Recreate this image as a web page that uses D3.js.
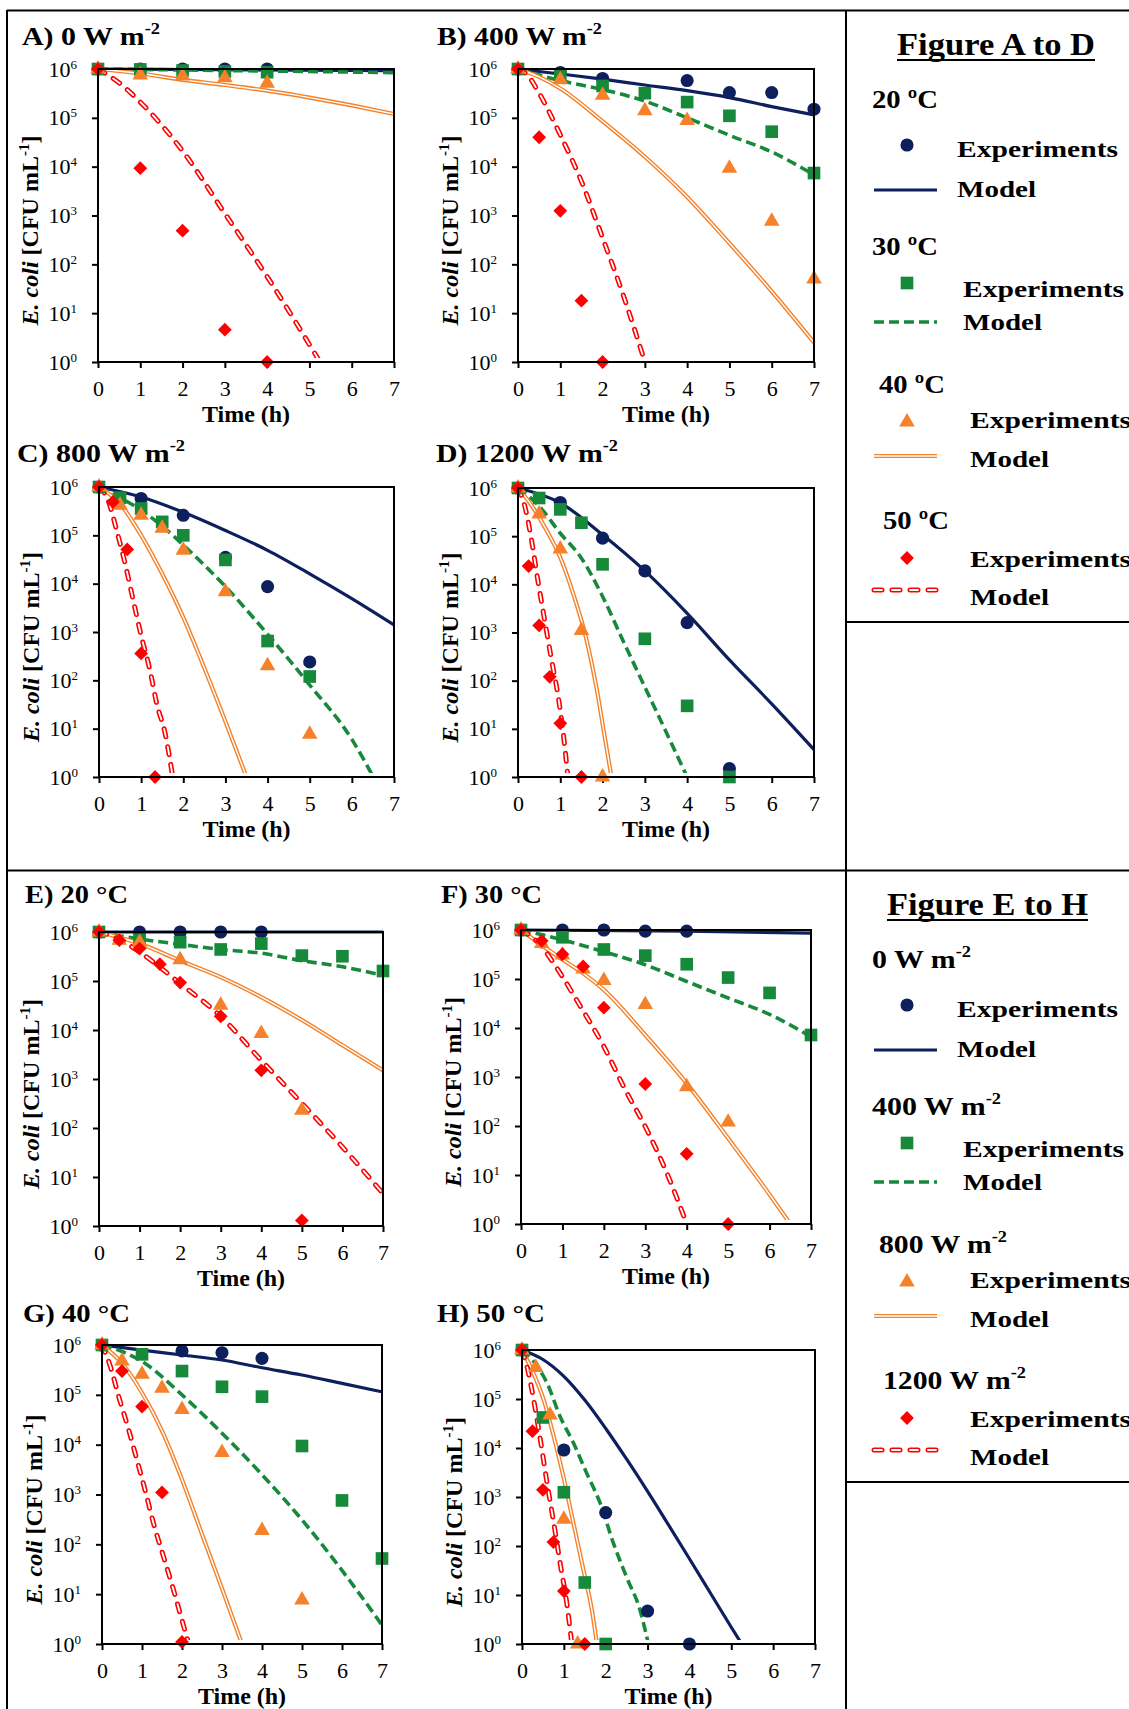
<!DOCTYPE html>
<html>
<head>
<meta charset="utf-8">
<script src="https://cdn.jsdelivr.net/npm/d3@7"></script>
<style>
  body { margin: 0; background: #fff; }
  svg { display: block; font-family: "Liberation Serif", "Times New Roman", serif; }
</style>
</head>
<body>
<div id="chart"></div>
<script>
// ---- data (time in h, E. coli in CFU/mL) ----
const xTicks = [0, 1, 2, 3, 4, 5, 6, 7];
const yTicks = [1e0, 1e1, 1e2, 1e3, 1e4, 1e5, 1e6];
const yExponents = ['0', '1', '2', '3', '4', '5', '6'];

const panelLabels = ['A) 0 W m', 'B) 400 W m', 'C) 800 W m', 'D) 1200 W m',
  'E) 20 °C', 'F) 30 °C', 'G) 40 °C', 'H) 50 °C'];
const panelLabelSups = ['-2', '-2', '-2', '-2', '', '', '', ''];

// series order in every panel: [20 ºC / 0 W, 30 ºC / 400 W, 40 ºC / 800 W, 50 ºC / 1200 W]
const expA = [
  [[0, 1e6], [1, 1e6], [2, 1e6], [3, 1e6], [4, 1e6]],
  [[0, 1e6], [1, 9.8e5], [2, 9.3e5], [3, 8.9e5], [4, 8.6e5]],
  [[0, 1e6], [1, 7.5e5], [2, 7.2e5], [3, 6.6e5], [4, 5.1e5]],
  [[0, 1e6], [1, 9.3e3], [2, 4.9e2], [3, 4.6], [4, 1]]
];
const modelA = [
  [[0, 1e6], [7, 9.2e5]],
  [[0, 1e6], [1, 9.8e5], [3, 9.3e5], [5, 8.9e5], [7, 8.4e5]],
  [[0, 1e6], [1, 8.1e5], [2, 6e5], [3, 4.7e5], [4, 3.6e5], [5, 2.6e5], [6, 1.8e5], [7, 1.2e5]],
  [[0, 1e6], [0.5, 5.2e5], [1, 2.1e5], [2, 2.1e4], [3, 1.1e3], [4, 56], [5.25, 1]]
];

const expB = [
  [[0, 1e6], [1, 8.5e5], [2, 6.4e5], [4, 5.8e5], [5, 3.3e5], [6, 3.3e5], [7, 1.5e5]],
  [[0, 1e6], [1, 7.2e5], [2, 4.5e5], [3, 3.2e5], [4, 2.1e5], [5, 1.1e5], [6, 5.2e4], [7, 7.4e3]],
  [[0, 1e6], [1, 6e5], [2, 2.9e5], [3, 1.4e5], [4, 8.8e4], [5, 9.3e3], [6, 7.6e2], [7, 50]],
  [[0, 1e6], [0.5, 4e4], [1, 1.25e3], [1.5, 18], [2, 1]]
];
const modelB = [
  [[0, 1e6], [1, 7.9e5], [2, 6.2e5], [3, 4.7e5], [4, 3.6e5], [5, 2.6e5], [6, 1.7e5], [7, 1.15e5]],
  [[0, 1e6], [1, 5.8e5], [2, 3.8e5], [3, 2.2e5], [4, 1e5], [5, 4.4e4], [6, 2e4], [7, 6.8e3]],
  [[0, 1e6], [0.5, 6.9e5], [1, 4e5], [2, 8.5e4], [3, 1.6e4], [4, 2.4e3], [5, 2.7e2], [6, 28], [7, 2.5]],
  [[0, 1e6], [0.25, 7.1e5], [0.5, 3.2e5], [1, 4.5e4], [1.5, 5e3], [2, 3.5e2], [2.5, 22], [3, 1]]
];

const expC = [
  [[0, 1e6], [1, 5.8e5], [2, 2.6e5], [3, 3.5e4], [4, 8.7e3], [5, 2.4e2]],
  [[0, 1e6], [0.5, 6e5], [1, 3.6e5], [1.5, 1.9e5], [2, 1e5], [3, 3.1e4], [4, 6.5e2], [5, 1.2e2]],
  [[0, 1e6], [0.5, 4.2e5], [1, 2.6e5], [1.5, 1.4e5], [2, 4.9e4], [3, 6.8e3], [4, 2e2], [5, 7.7]],
  [[0, 1e6], [0.33, 4.9e5], [0.67, 5.1e4], [1, 3.6e2], [1.33, 1]]
];
const modelC = [
  [[0, 1e6], [1, 6.2e5], [2, 3e5], [3, 1.26e5], [4, 4.9e4], [5, 1.6e4], [6, 4.9e3], [7, 1.4e3]],
  [[0, 1e6], [0.5, 6e5], [1, 3.3e5], [1.5, 1.55e5], [2, 6.3e4], [3, 8.7e3], [4, 9e2], [5, 80], [6, 6], [6.51, 1]],
  [[0, 1e6], [0.5, 4.5e5], [1, 1e5], [1.5, 1.6e4], [2, 2e3], [2.5, 1.8e2], [3, 14], [3.5, 1]],
  [[0, 1e6], [0.22, 5.2e5], [0.42, 1.26e5], [0.62, 2.6e4], [0.81, 4.6e3], [1.01, 7.8e2], [1.21, 1.6e2], [1.37, 33], [1.57, 7.9], [1.75, 1]]
];

const expD = [
  [[0, 1e6], [1, 5e5], [2, 9.1e4], [3, 1.9e4], [4, 1.6e3], [5, 1.5]],
  [[0, 1e6], [0.5, 6.2e5], [1, 3.6e5], [1.5, 1.9e5], [2, 2.6e4], [3, 7.4e2], [4, 30], [5, 1]],
  [[0, 1e6], [0.5, 2.9e5], [1, 5.4e4], [1.5, 1.1e3], [2, 1]],
  [[0, 1e6], [0.25, 2.4e4], [0.5, 1.4e3], [0.75, 1.2e2], [1, 13], [1.5, 1]]
];
const modelD = [
  [[0, 1e6], [1, 4.9e5], [2, 1.07e5], [3, 1.9e4], [4, 2.5e3], [5, 2.7e2], [6, 33], [7, 3.7]],
  [[0, 1e6], [0.5, 4.2e5], [1, 1.15e5], [1.5, 3.5e4], [2, 5.6e3], [2.5, 6.3e2], [3, 74], [3.5, 8.7], [4, 1]],
  [[0, 1e6], [0.28, 4.9e5], [0.67, 1.35e5], [0.99, 3.8e4], [1.3, 6.6e3], [1.62, 7.1e2], [1.85, 76], [2.05, 6.9], [2.21, 1]],
  [[0, 1e6], [0.16, 4.2e5], [0.32, 8.3e4], [0.47, 1.2e4], [0.63, 1.8e3], [0.79, 2.8e2], [0.95, 47], [1.07, 8.1], [1.18, 1]]
];

const expE = [
  [[0, 1e6], [1, 1e6], [2, 1e6], [3, 1e6], [4, 1e6]],
  [[0, 1e6], [1, 6.9e5], [2, 6.2e5], [3, 4.4e5], [4, 5.8e5], [5, 3.3e5], [6, 3.2e5], [7, 1.6e5]],
  [[0, 1e6], [0.5, 6.8e5], [1, 6.2e5], [2, 2.7e5], [3, 3.2e4], [4, 8.5e3], [5, 2.3e2]],
  [[0, 1e6], [0.5, 6.8e5], [1, 4.6e5], [1.5, 2.2e5], [2, 9.3e4], [3, 1.9e4], [4, 1.5e3], [5, 1.3]]
];
const modelE = [
  [[0, 1e6], [7, 1e6]],
  [[0, 1e6], [1, 7.2e5], [2, 5.6e5], [3, 4.4e5], [4, 3.7e5], [5, 2.6e5], [6, 1.95e5], [7, 1.3e5]],
  [[0, 1e6], [1, 5.8e5], [2, 2.6e5], [3, 1.2e5], [4, 4.7e4], [5, 1.6e4], [6, 4.9e3], [7, 1.5e3]],
  [[0, 1e6], [0.5, 7.1e5], [1, 3.9e5], [2, 8.9e4], [3, 1.9e4], [4, 2.4e3], [5, 3.2e2], [6, 41], [7, 4.6]]
];

const expF = [
  [[0, 1e6], [1, 1e6], [2, 1e6], [3, 9.5e5], [4, 9.5e5]],
  [[0, 1e6], [1, 7.1e5], [2, 4e5], [3, 3e5], [4, 2e5], [5, 1.07e5], [6, 5.2e4], [7, 7.2e3]],
  [[0, 1e6], [0.5, 5.3e5], [1, 3.1e5], [1.5, 1.6e5], [2, 9.3e4], [3, 3e4], [4, 6.3e2], [5, 1.2e2]],
  [[0, 1e6], [0.5, 6e5], [1, 3.2e5], [1.5, 1.8e5], [2, 2.6e4], [3, 7.2e2], [4, 27], [5, 1]]
];
const modelF = [
  [[0, 1e6], [4, 9.5e5], [7, 8.6e5]],
  [[0, 1e6], [1, 6.3e5], [2, 3.6e5], [3, 1.95e5], [4, 8.9e4], [5, 4.1e4], [6, 1.9e4], [7, 6.6e3]],
  [[0, 1e6], [0.5, 4.9e5], [1, 2.5e5], [1.5, 1.3e5], [2, 6e4], [3, 7.2e3], [4, 7.4e2], [5, 56], [6, 4], [6.5, 1]],
  [[0, 1e6], [0.39, 5.8e5], [0.95, 1.3e5], [1.43, 2.8e4], [2, 4.2e3], [2.48, 6.3e2], [3.04, 83], [3.52, 11], [4, 1]]
];

const expG = [
  [[0, 1e6], [2, 7.6e5], [3, 7e5], [4, 5.4e5]],
  [[0, 1e6], [1, 6.5e5], [2, 3e5], [3, 1.45e5], [4, 9.2e4], [5, 9.4e3], [6, 7.6e2], [7, 52]],
  [[0, 1e6], [0.5, 4.8e5], [1, 2.6e5], [1.5, 1.35e5], [2, 5.1e4], [3, 7e3], [4, 1.9e2], [5, 7.6]],
  [[0, 1e6], [0.5, 3e5], [1, 5.8e4], [1.5, 1.1e3], [2, 1.1]]
];
const modelG = [
  [[0, 1e6], [1, 7.9e5], [2, 6.3e5], [3, 5e5], [4, 3.5e5], [5, 2.5e5], [6, 1.7e5], [7, 1.15e5]],
  [[0, 1e6], [0.5, 7.4e5], [1, 4.7e5], [2, 1e5], [3, 1.7e4], [4, 2.5e3], [5, 3.1e2], [6, 30], [7, 2.4]],
  [[0, 1e6], [0.5, 4.3e5], [1, 1.1e5], [1.5, 1.9e4], [2, 2e3], [2.5, 1.6e2], [3, 13], [3.5, 1]],
  [[0, 1e6], [0.21, 3.7e5], [0.42, 9.1e4], [0.67, 1.95e4], [0.875, 4.9e3], [1.08, 1.2e3], [1.29, 2.6e2], [1.54, 56], [1.79, 12], [2, 3], [2.17, 1]]
];

const expH = [
  [[0, 1e6], [1, 9.1e3], [2, 4.8e2], [3, 4.7], [4, 1]],
  [[0, 1e6], [0.5, 4.2e4], [1, 1.25e3], [1.5, 18], [2, 1]],
  [[0, 1e6], [0.33, 4.4e5], [0.67, 4.7e4], [1, 3.5e2], [1.33, 1]],
  [[0, 1e6], [0.25, 2.2e4], [0.5, 1.4e3], [0.75, 1.2e2], [1, 12], [1.5, 1]]
];
const modelH = [
  [[0, 1e6], [0.5, 6.4e5], [1, 2.9e5], [1.5, 9.5e4], [2, 2.5e4], [2.5, 5.9e3], [3, 1.3e3], [3.5, 2.7e2], [4, 55], [4.5, 11], [5, 2.2], [5.25, 1]],
  [[0, 1e6], [0.28, 5.8e5], [0.6, 2.1e5], [0.91, 4.4e4], [1.23, 1.26e4], [1.55, 3e3], [1.87, 7.4e2], [2.19, 1.1e2], [2.5, 23], [2.82, 4.9], [3.02, 1]],
  [[0, 1e6], [0.24, 3.9e5], [0.52, 9.5e4], [0.76, 1.7e4], [0.99, 2.6e3], [1.23, 2.9e2], [1.47, 32], [1.67, 4.9], [1.79, 1]],
  [[0, 1e6], [0.12, 4.6e5], [0.28, 9.5e4], [0.44, 1.45e4], [0.6, 1.9e3], [0.76, 2.9e2], [0.91, 45], [1.07, 6.8], [1.19, 1]]
];

const legendTitles = ['Figure A to D', 'Figure E to H'];
const legendHeadsAD = [['20 ºC', ''], ['30 ºC', ''], ['40 ºC', ''], ['50 ºC', '']];
const legendHeadsEH = [['0 W m', '-2'], ['400 W m', '-2'], ['800 W m', '-2'], ['1200 W m', '-2']];

// ---- styles & layout ----
const fontStack = '"Liberation Serif", "Times New Roman", serif';
const colors = ['#0d1f5c', '#17893a', '#f5822a', '#ff0000'];
const W = 1129, H = 1709;

const panels = [
  { exp: expA, model: modelA, x: 98, y: 69, w: 296, h: 293, tx: 22, ty: 45, tw: 138 },
  { exp: expB, model: modelB, x: 518, y: 69, w: 296, h: 293, tx: 437, ty: 45, tw: 165 },
  { exp: expC, model: modelC, x: 99, y: 487, w: 295, h: 290, tx: 17, ty: 462, tw: 168 },
  { exp: expD, model: modelD, x: 518, y: 488, w: 296, h: 289, tx: 436, ty: 462, tw: 182 },
  { exp: expE, model: modelE, x: 99, y: 932, w: 284, h: 294, tx: 25, ty: 903, tw: 103 },
  { exp: expF, model: modelF, x: 521, y: 930, w: 290, h: 294, tx: 441, ty: 903, tw: 101 },
  { exp: expG, model: modelG, x: 102, y: 1345, w: 280, h: 299, tx: 23, ty: 1322, tw: 107 },
  { exp: expH, model: modelH, x: 522, y: 1350, w: 293, h: 294, tx: 437, ty: 1322, tw: 108 }
];

const svg = d3.select('#chart').append('svg')
  .attr('width', W)
  .attr('height', H)
  .attr('font-family', fontStack);

// outer frames
const frameLines = [
  [7, 10.5, W, 10.5], [7, 10, 7, H], [846, 10, 846, H], [7, 870.5, W, 870.5],
  [846, 622, W, 622], [846, 1482, W, 1482]
];
svg.selectAll('line.frame').data(frameLines).enter().append('line')
  .attr('class', 'frame')
  .attr('x1', d => d[0]).attr('y1', d => d[1])
  .attr('x2', d => d[2]).attr('y2', d => d[3])
  .attr('stroke', '#000').attr('stroke-width', 2);

// marker path for one series
function markerPath(i) {
  if (i === 0) return d3.symbol(d3.symbolCircle, 135)();
  if (i === 1) return d3.symbol(d3.symbolSquare, 160)();
  if (i === 2) return d3.symbol(d3.symbolTriangle, 105)();
  return d3.symbol(d3.symbolSquare, 95)();
}

// draws a model line with the style of series i
function drawModel(g, pathD, i) {
  if (i === 0) {
    g.append('path').attr('d', pathD).attr('fill', 'none')
      .attr('stroke', colors[0]).attr('stroke-width', 3.2);
  } else if (i === 1) {
    g.append('path').attr('d', pathD).attr('fill', 'none')
      .attr('stroke', colors[1]).attr('stroke-width', 3.6)
      .attr('stroke-dasharray', '10,5');
  } else if (i === 2) {
    g.append('path').attr('d', pathD).attr('fill', 'none')
      .attr('stroke', colors[2]).attr('stroke-width', 4.2);
    g.append('path').attr('d', pathD).attr('fill', 'none')
      .attr('stroke', '#fff').attr('stroke-width', 1.4);
  } else {
    g.append('path').attr('d', pathD).attr('fill', 'none')
      .attr('stroke', colors[3]).attr('stroke-width', 5)
      .attr('stroke-linecap', 'round').attr('stroke-dasharray', '8,10');
    g.append('path').attr('d', pathD).attr('fill', 'none')
      .attr('stroke', '#fff').attr('stroke-width', 1.8)
      .attr('stroke-linecap', 'round').attr('stroke-dasharray', '8,10');
  }
}

function drawPanel(p, idx) {
  const g = svg.append('g');
  const x = d3.scaleLinear().domain([0, 7]).range([p.x, p.x + p.w]);
  const y = d3.scaleLog().domain([1, 1e6]).range([p.y + p.h, p.y]);

  // clip region a little larger than the plot box
  const clipId = 'clip' + idx;
  g.append('clipPath').attr('id', clipId).append('rect')
    .attr('x', p.x - 10).attr('y', p.y - 10).attr('width', p.w + 20).attr('height', p.h + 6);

  // panel title
  const title = g.append('text')
    .attr('x', p.tx).attr('y', p.ty)
    .attr('font-size', 26).attr('font-weight', 'bold')
    .attr('textLength', p.tw).attr('lengthAdjust', 'spacingAndGlyphs');
  title.append('tspan').text(panelLabels[idx]);
  if (panelLabelSups[idx]) {
    title.append('tspan').attr('dy', -11).attr('font-size', 16).text(panelLabelSups[idx]);
  }

  // axes
  const xAxis = g.append('g')
    .attr('transform', `translate(0,${p.y + p.h})`)
    .call(d3.axisBottom(x).tickValues(xTicks).tickSize(6).tickPadding(12).tickFormat(d3.format('d')));
  const yAxis = g.append('g')
    .attr('transform', `translate(${p.x},0)`)
    .call(d3.axisLeft(y).tickValues(yTicks).tickSize(6).tickPadding(15).tickFormat(() => ''));
  [xAxis, yAxis].forEach(a => {
    a.attr('font-family', fontStack).attr('font-size', 22);
    a.select('.domain').remove();
    a.selectAll('.tick line').attr('stroke', '#000').attr('stroke-width', 2);
    a.selectAll('.tick text').attr('fill', '#000');
  });
  yAxis.selectAll('.tick text').each(function (d, i) {
    const t = d3.select(this);
    t.append('tspan').text('10');
    t.append('tspan').attr('dy', -8).attr('font-size', 13).text(yExponents[i]);
  });

  // axis titles
  g.append('text')
    .attr('x', p.x + p.w / 2).attr('y', p.y + p.h + 60)
    .attr('text-anchor', 'middle').attr('font-size', 24).attr('font-weight', 'bold')
    .text('Time (h)');
  const yt = g.append('text')
    .attr('transform', `translate(${p.x - 60},${p.y + p.h / 2 + 15}) rotate(-90)`)
    .attr('text-anchor', 'middle').attr('font-size', 24).attr('font-weight', 'bold');
  yt.append('tspan').attr('font-style', 'italic').text('E. coli');
  yt.append('tspan').text(' [CFU mL');
  yt.append('tspan').attr('dy', -9).attr('font-size', 15).text('-1');
  yt.append('tspan').attr('dy', 9).text(']');

  // model lines
  const line = d3.line()
    .x(d => x(d[0]))
    .y(d => y(d[1]))
    .curve(d3.curveMonotoneX);
  const lines = g.append('g').attr('clip-path', `url(#${clipId})`);
  p.model.forEach((s, i) => drawModel(lines, line(s), i));

  // experiment markers
  p.exp.forEach((s, i) => {
    g.append('g').selectAll('path').data(s).enter().append('path')
      .attr('d', markerPath(i))
      .attr('transform', d => `translate(${x(d[0])},${y(d[1])})` + (i === 3 ? ' rotate(45)' : ''))
      .attr('fill', colors[i]);
  });

  // plot frame
  g.append('rect')
    .attr('x', p.x).attr('y', p.y).attr('width', p.w).attr('height', p.h)
    .attr('fill', 'none').attr('stroke', '#000').attr('stroke-width', 2);
}

panels.forEach(drawPanel);

// ---- legends ----
const legendTops = [10, 870];
const legendTitleX = [[897, 198], [887, 201]];
const legendHeadX = [872, 872, 879, 883];
const legendHeadY = [98, 245, 383, 519];
const legendMarkY = [135, 273, 412, 548];
const legendExpY = [147, 287, 418, 557];
const legendTextX = [957, 963, 970, 970];
const legendLineY = [180, 312, 446, 580];
const legendModelY = [187, 320, 457, 595];
const headWidths = [[66, 66, 66, 66], [99, 129, 128, 143]];

function drawLegend(li, heads) {
  const top = legendTops[li];
  const g = svg.append('g');
  g.append('text')
    .attr('x', legendTitleX[li][0]).attr('y', top + 45)
    .attr('font-size', 32).attr('font-weight', 'bold')
    .attr('textLength', legendTitleX[li][1]).attr('lengthAdjust', 'spacingAndGlyphs')
    .text(legendTitles[li]);
  g.append('line')
    .attr('x1', legendTitleX[li][0]).attr('x2', legendTitleX[li][0] + legendTitleX[li][1])
    .attr('y1', top + 50).attr('y2', top + 50)
    .attr('stroke', '#000').attr('stroke-width', 2);

  heads.forEach((h, i) => {
    const ht = g.append('text')
      .attr('x', legendHeadX[i]).attr('y', top + legendHeadY[i])
      .attr('font-size', 26).attr('font-weight', 'bold')
      .attr('textLength', headWidths[li][i]).attr('lengthAdjust', 'spacingAndGlyphs');
    ht.append('tspan').text(h[0]);
    if (h[1]) ht.append('tspan').attr('dy', -11).attr('font-size', 16).text(h[1]);

    g.append('path')
      .attr('d', markerPath(i))
      .attr('transform', `translate(907,${top + legendMarkY[i]})` + (i === 3 ? ' rotate(45)' : ''))
      .attr('fill', colors[i]);
    g.append('text')
      .attr('x', legendTextX[i]).attr('y', top + legendExpY[i])
      .attr('font-size', 23).attr('font-weight', 'bold')
      .attr('textLength', 161).attr('lengthAdjust', 'spacingAndGlyphs')
      .text('Experiments');

    const ly = top + legendLineY[i];
    drawModel(g, `M874,${ly}L937,${ly}`, i);
    g.append('text')
      .attr('x', legendTextX[i]).attr('y', top + legendModelY[i])
      .attr('font-size', 23).attr('font-weight', 'bold')
      .attr('textLength', 79).attr('lengthAdjust', 'spacingAndGlyphs')
      .text('Model');
  });
}

drawLegend(0, legendHeadsAD);
drawLegend(1, legendHeadsEH);
</script>
</body>
</html>
